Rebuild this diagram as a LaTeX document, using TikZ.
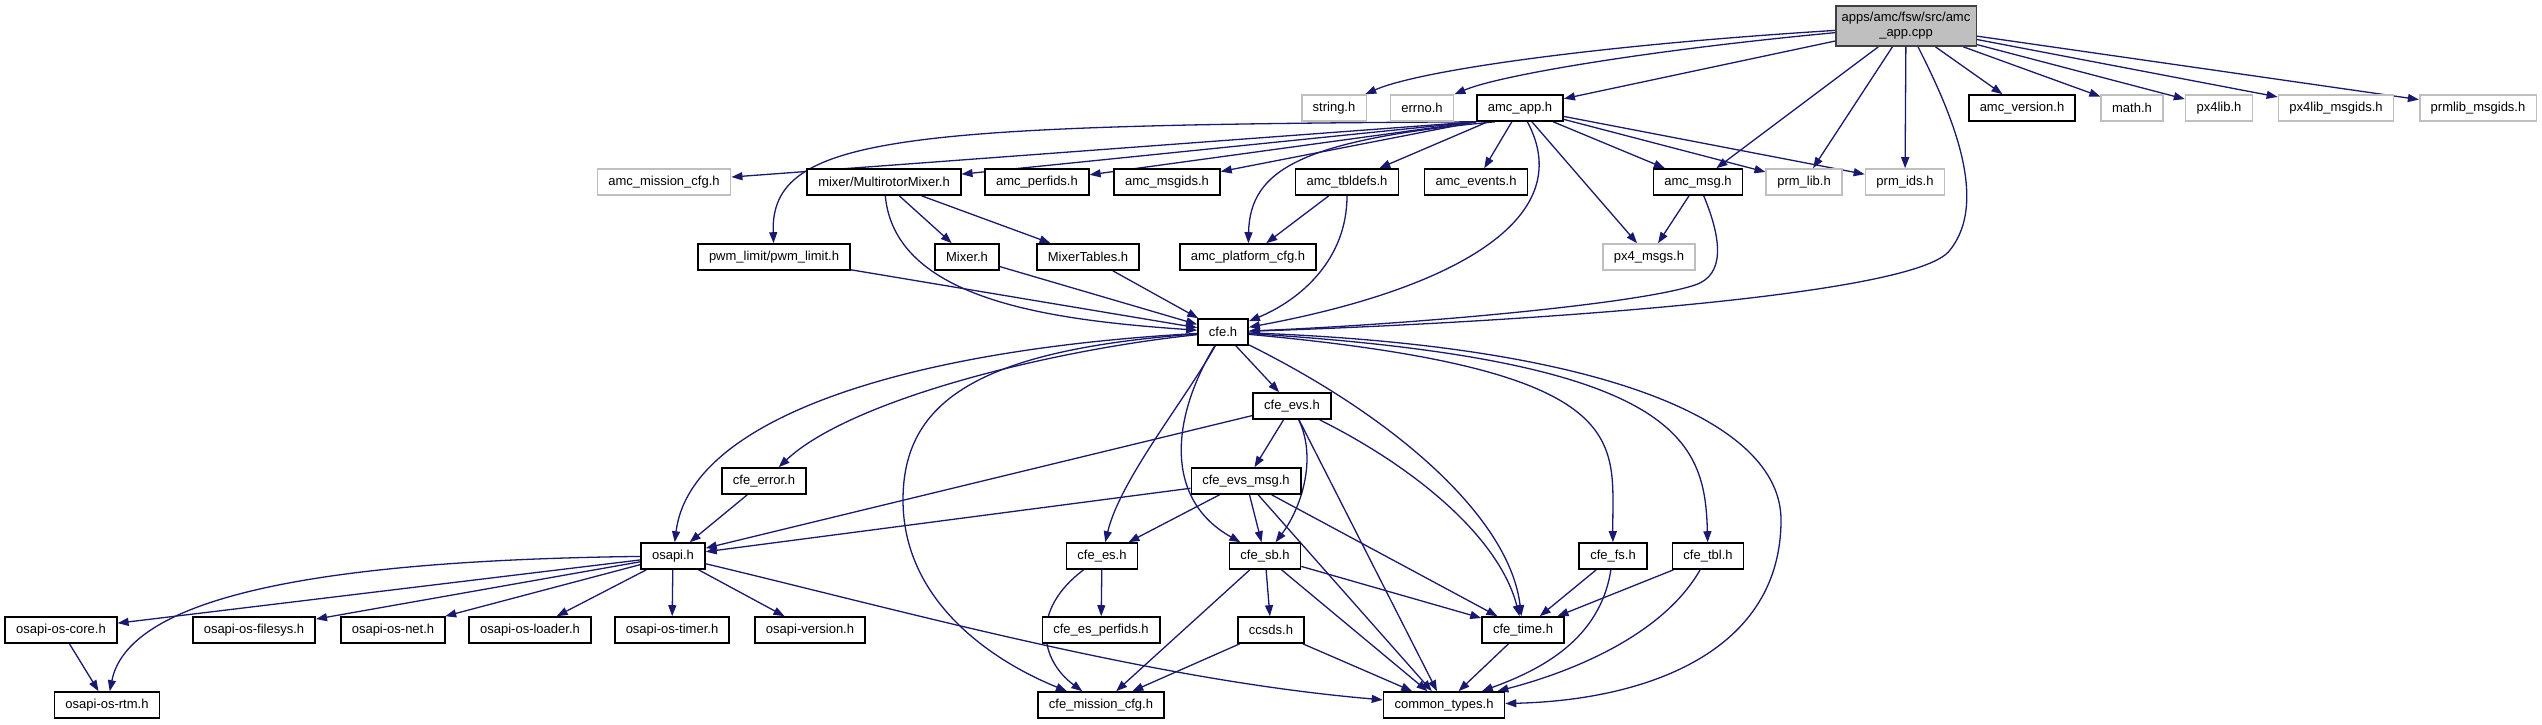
\documentclass[tikz,border=0pt]{standalone}
\usepackage{fontspec}
\setmainfont{Liberation Sans}
\usepackage{tikz}
\usetikzlibrary{arrows.meta, backgrounds}
\definecolor{incEdge}{HTML}{191970}
\definecolor{incGray}{HTML}{BFBFBF}
\definecolor{incRoot}{HTML}{404040}

\tikzset{
  hdr/.style={draw=black, line width=1.6pt, fill=white, minimum height=26pt,
    inner xsep=11pt, inner ysep=2pt},
  hdrgray/.style={hdr, draw=incGray},
  hdrroot/.style={hdr, draw=incRoot, fill=incGray, align=center, minimum height=40pt, inner xsep=6pt},
  dep/.style={draw=incEdge, line width=1.3pt, -{Triangle[length=11pt,width=8pt]}}
}

\begin{document}
\begin{tikzpicture}[font=\fontsize{13}{15}\selectfont, x=1pt, y=-1pt]
  \useasboundingbox (0,0) rectangle (2542,724);
  % source file
  \node[hdrroot] (root) at (1906,26) {apps/amc/fsw/src/amc\\\_app.cpp};
  % headers without documentation
  \foreach \nm/\txt/\x/\y in {%
    stringh/string.h/1334/108,
    errnoh/errno.h/1422/108,
    mathh/math.h/2132/108,
    pxlib/px4lib.h/2219/108,
    pxlibmsgids/px4lib\_msgids.h/2336/108,
    prmlibmsgids/prmlib\_msgids.h/2478/108,
    amcmissioncfg/amc\_mission\_cfg.h/664/182,
    prmlib/prm\_lib.h/1804/182,
    prmids/prm\_ids.h/1905/182,
    pxmsgs/px4\_msgs.h/1649/257%
  } {
    \node[hdrgray] (\nm) at (\x,\y) {\txt};
  }
  % documented headers
  \foreach \nm/\txt/\x/\y in {%
    amcapp/amc\_app.h/1520/108,
    amcversion/amc\_version.h/2022/108,
    multirotor/{mixer/MultirotorMixer.h}/884/182,
    amcperfids/amc\_perfids.h/1037/182,
    amcmsgids/amc\_msgids.h/1167/182,
    amctbldefs/amc\_tbldefs.h/1347/182,
    amcevents/amc\_events.h/1476/182,
    amcmsg/amc\_msg.h/1698/182,
    pwmlimit/{pwm\_limit/pwm\_limit.h}/774/257,
    mixerh/Mixer.h/967/257,
    mixertables/MixerTables.h/1088/257,
    amcplatformcfg/amc\_platform\_cfg.h/1248/257,
    cfeh/cfe.h/1223/332,
    cfeevs/cfe\_evs.h/1292/406,
    cfeerror/cfe\_error.h/764/481,
    cfeevsmsg/cfe\_evs\_msg.h/1246/481,
    osapih/osapi.h/673/556,
    cfees/cfe\_es.h/1102/556,
    cfesb/cfe\_sb.h/1265/556,
    cfefs/cfe\_fs.h/1613/556,
    cfetbl/cfe\_tbl.h/1708/556,
    oscore/osapi-os-core.h/61/630,
    osfilesys/osapi-os-filesys.h/254/630,
    osnet/osapi-os-net.h/393/630,
    osloader/osapi-os-loader.h/530/630,
    ostimer/osapi-os-timer.h/672/630,
    osversion/osapi-version.h/810/630,
    cfeesperfids/cfe\_es\_perfids.h/1101/630,
    ccsds/ccsds.h/1271/630,
    cfetime/cfe\_time.h/1523/630,
    osrtm/osapi-os-rtm.h/107/705,
    cfemissioncfg/cfe\_mission\_cfg.h/1101/705,
    commontypes/common\_types.h/1444/705%
  } {
    \node[hdr] (\nm) at (\x,\y) {\txt};
  }

  \begin{scope}[on background layer]
    % straight includes
    \foreach \a/\b in {%
      root/amcapp, root/amcmsg, root/prmlib, root/prmids, root/amcversion,
      root/mathh, root/pxlib, root/pxlibmsgids, root/prmlibmsgids,
      amcapp.south west/amcmissioncfg, amcapp.south west/multirotor,
      amcapp.south west/amcperfids, amcapp.south west/amcmsgids,
      amcapp/amctbldefs, amcapp/amcevents, amcapp/amcmsg, amcapp/prmlib,
      amcapp/prmids, amcapp/pxmsgs,
      amctbldefs/amcplatformcfg, amcmsg/pxmsgs, multirotor/mixerh, multirotor/mixertables,
      pwmlimit/cfeh, mixerh/cfeh, mixertables/cfeh,
      cfeh/cfeevs, cfeevs/osapih, cfeevs/cfeevsmsg, cfeevs/commontypes,
      cfeevsmsg/osapih, cfeevsmsg/cfees, cfeevsmsg/cfesb, cfeevsmsg/commontypes,
      cfeevsmsg/cfetime,
      cfees/cfeesperfids, cfesb/ccsds, cfesb/cfemissioncfg, cfesb/commontypes,
      cfesb/cfetime, ccsds/cfemissioncfg, ccsds/commontypes, cfetime/commontypes,
      cfefs/cfetime, cfetbl/cfetime, cfeerror/osapih,
      osapih/oscore, osapih/osfilesys, osapih/osnet, osapih/osloader,
      osapih/ostimer, osapih/osversion, oscore/osrtm%
    } {
      \draw[dep] (\a) -- (\b);
    }
    % curved includes
    \foreach \a/\p/\q/\b in {%
      root/{1600,45}/{1420,70}/stringh,
      root/{1650,50}/{1500,75}/errnoh,
      amcapp.south west/{900,125}/{770,135}/pwmlimit,
      amctbldefs/{1347,260}/{1300,300}/cfeh,
      multirotor/{895,300}/{1050,320}/cfeh,
      cfeh/{1050,350}/{850,400}/cfeerror,
      cfeh/{900,350}/{690,420}/osapih,
      cfeh/{1185,400}/{1120,480}/cfees,
      cfeh/{1170,420}/{1165,500}/cfesb,
      cfeh/{1400,420}/{1510,520}/cfetime,
      cfeh/{1640,370}/{1612,440}/cfefs,
      cfeh/{1680,360}/{1705,440}/cfetbl,
      cfeevs/{1318,460}/{1300,510}/cfesb,
      cfeevs/{1420,470}/{1500,540}/cfetime,
      cfees/{1030,610}/{1040,660}/cfemissioncfg,
      cfefs/{1600,640}/{1540,670}/commontypes,
      cfetbl/{1660,640}/{1560,675}/commontypes,
      osapih/{350,560}/{130,590}/osrtm,
      osapih/{900,610}/{1150,680}/commontypes%
    } {
      \draw[dep] (\a) .. controls (\p) and (\q) .. (\b);
    }
    \draw[dep] ([xshift=-25pt]amcapp.south) .. controls (1300,140) and (1250,170) .. (amcplatformcfg);
    \draw[dep] (amcapp) .. controls (1580,220) and (1450,290) .. (cfeh);
    \draw[dep] ([xshift=12pt]root.south) .. controls (1950,110) and (1990,200) .. (1950,250)
      .. controls (1915,300) and (1450,325) .. (cfeh);
    \draw[dep] (amcmsg) .. controls (1722,240) and (1725,275) .. (1695,285)
      .. controls (1635,305) and (1400,325) .. (cfeh);
    \draw[dep] (cfeh) .. controls (980,350) and (903,400) .. (903,500)
      .. controls (903,600) and (990,660) .. (cfemissioncfg);
    \draw[dep] (cfeh) .. controls (1600,345) and (1781,420) .. (1781,520)
      .. controls (1781,650) and (1650,700) .. (commontypes);
  \end{scope}
\end{tikzpicture}
\end{document}
